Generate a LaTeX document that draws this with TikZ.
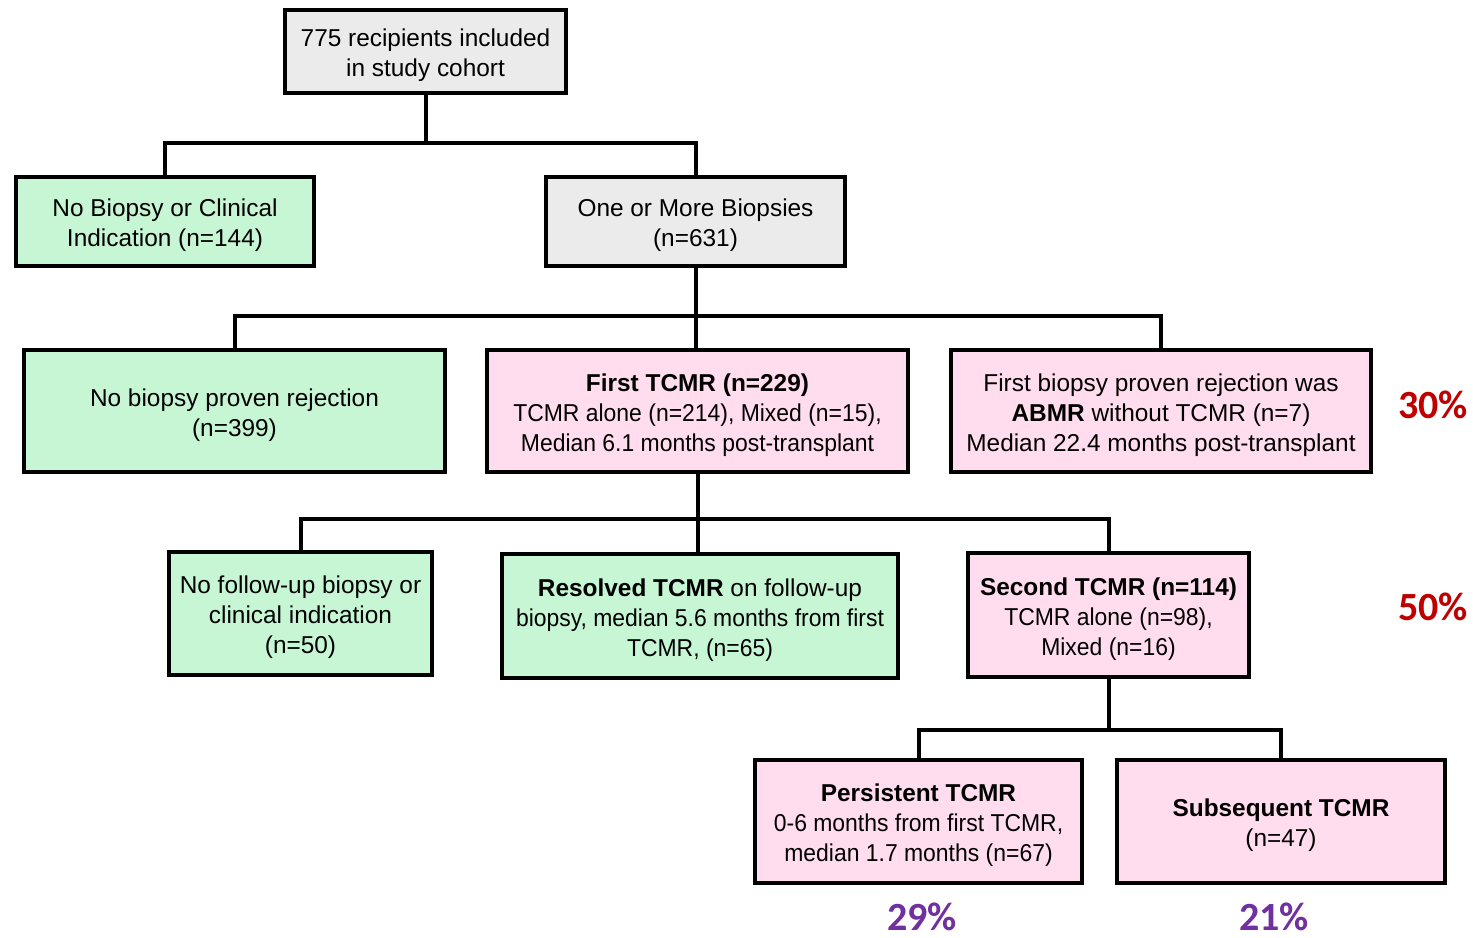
\documentclass[tikz,border=0pt]{standalone}
\usepackage{fontspec}
\setmainfont{Liberation Sans}
\newfontfamily\narrowfont[FakeStretch=0.94]{Liberation Sans}
\newfontfamily\pctfont{Carlito}

\definecolor{boxgrey}{HTML}{EBEBEB}
\definecolor{boxgreen}{HTML}{C6F6D4}
\definecolor{boxpink}{HTML}{FFDDEE}
\definecolor{pctred}{HTML}{C00000}
\definecolor{pctpurple}{HTML}{7030A0}

\tikzstyle{block} = [draw, text centered, align = center, inner sep = 0pt, line width = 2pt, font = \fontsize{12.2}{15}\selectfont]
% a bit of extra text height sets the lines slightly below the middle
\tikzstyle{twolines} = [text height = 27.9pt]
\tikzstyle{threelines} = [text height = 42.9pt]
\tikzstyle{greyblock} = [block, fill = boxgrey]
\tikzstyle{greenblock} = [block, fill = boxgreen]
\tikzstyle{pinkblock} = [block, fill = boxpink]
\tikzstyle{link} = [line width = 2pt]
\tikzstyle{pct} = [font = \pctfont\bfseries\fontsize{20}{24}\selectfont]

\begin{document}
\begin{tikzpicture}[x=0.5pt, y=-0.5pt]
		\useasboundingbox (0, 0) rectangle (1474, 938);

		% first two levels
		\node [greyblock, twolines, minimum width = 140.5pt, minimum height = 41.5pt] at (425.5, 51.5) (cohort) {775 recipients included\\in study cohort};
		\node [greenblock, twolines, minimum width = 149pt, minimum height = 44.5pt] at (165, 221.5) (nobiopsy) {No Biopsy or Clinical\\Indication (n=144)};
		\node [greyblock, twolines, minimum width = 149.5pt, minimum height = 44.5pt] at (695.5, 221.5) (biopsies) {One or More Biopsies\\(n=631)};

		% outcome of the biopsies
		\node [greenblock, twolines, minimum width = 210.5pt, minimum height = 61pt] at (234.5, 411) (norejection) {No biopsy proven rejection\\(n=399)};
		\node [pinkblock, threelines, minimum width = 210.5pt, minimum height = 61pt] at (697.5, 411) (firsttcmr) {\textbf{First TCMR (n=229)}\\\narrowfont TCMR alone (n=214), Mixed (n=15),\\\narrowfont Median 6.1 months post-transplant};
		\node [pinkblock, threelines, minimum width = 210pt, minimum height = 61pt] at (1161, 411) (abmr) {First biopsy proven rejection was\\\textbf{ABMR} without TCMR (n=7)\\Median 22.4 months post-transplant};

		% after the first TCMR
		\node [greenblock, threelines, minimum width = 131.5pt, minimum height = 61.5pt] at (300.5, 613.5) (nofollowup) {No follow-up biopsy or\\clinical indication\\(n=50)};
		\node [greenblock, threelines, minimum width = 198pt, minimum height = 62pt] at (700, 616) (resolved) {\textbf{Resolved TCMR} on follow-up\\\narrowfont biopsy, median 5.6 months from first\\\narrowfont TCMR, (n=65)};
		\node [pinkblock, threelines, minimum width = 140.5pt, minimum height = 62pt] at (1108.5, 615) (secondtcmr) {\textbf{Second TCMR (n=114)}\\\narrowfont TCMR alone (n=98),\\\narrowfont Mixed (n=16)};

		% after the second TCMR
		\node [pinkblock, threelines, minimum width = 163.5pt, minimum height = 61.5pt] at (918.5, 821.5) (persistent) {\textbf{Persistent TCMR}\\\narrowfont 0-6 months from first TCMR,\\\narrowfont median 1.7 months (n=67)};
		\node [pinkblock, twolines, minimum width = 164pt, minimum height = 61.5pt] at (1281, 821.5) (subsequent) {\textbf{Subsequent TCMR}\\(n=47)};

		% percentages
		\node [pct, text = pctred] at (1433, 405) (pctabmr) {30\%};
		\node [pct, text = pctred] at (1433, 607) (pctsecond) {50\%};
		\node [pct, text = pctpurple] at (922, 917) (pctpersistent) {29\%};
		\node [pct, text = pctpurple] at (1274, 917) (pctsubsequent) {21\%};

		% tree connectors
		\coordinate (j1) at (cohort.south |- 0, 143);
		\coordinate (j2) at (biopsies.south |- 0, 316);
		\coordinate (j3) at (firsttcmr.south |- 0, 519);
		\coordinate (j4) at (secondtcmr.south |- 0, 730);

		\draw [link] (cohort.south) -- (j1);
		\draw [link] (nobiopsy.north) |- (j1) -| (biopsies.north);
		\draw [link] (biopsies.south) -- (j2);
		\draw [link] (norejection.north) |- (j2) -| (abmr.north);
		\draw [link] (j2) -- (j2 |- firsttcmr.north);
		\draw [link] (firsttcmr.south) -- (j3);
		\draw [link] (nofollowup.north) |- (j3) -| (secondtcmr.north);
		\draw [link] (j3) -- (j3 |- resolved.north);
		\draw [link] (secondtcmr.south) -- (j4);
		\draw [link] (persistent.north) |- (j4) -| (subsequent.north);
	\end{tikzpicture}
\end{document}
